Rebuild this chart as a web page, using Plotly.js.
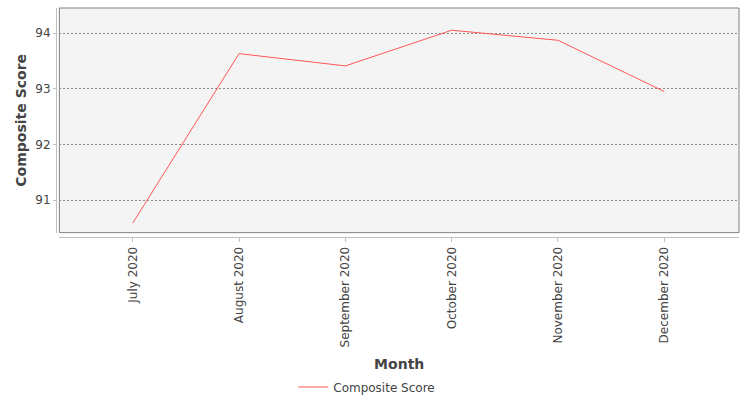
<!DOCTYPE html>
<html>
<head>
<meta charset="utf-8">
<script src="https://cdn.plot.ly/plotly-3.0.1.min.js"></script>
<style>
  html, body { margin: 0; padding: 0; background: #fff; }
  #plot { width: 750px; height: 400px; }
</style>
</head>
<body>
<div id="plot"></div>
<script>
const months = ["July 2020", "August 2020", "September 2020", "October 2020", "November 2020", "December 2020"];
const compositeScore = [90.59, 93.63, 93.41, 94.05, 93.87, 92.95];
const yTicks = [91, 92, 93, 94];

const trace = {
  x: months,
  y: compositeScore,
  type: "scatter",
  mode: "lines",
  name: "Composite Score",
  line: { color: "#ff5555", width: 1 },
  hoverinfo: "skip",
};

const font = { family: "DejaVu Sans, sans-serif", size: 12, color: "#444" };

const xaxis = {
  type: "category",
  domain: [0.005, 1],
  range: [-0.69, 5.703],
  anchor: "free",
  position: 0,
  showline: true,
  linecolor: "#c0c0c0",
  linewidth: 1,
  ticks: "outside",
  ticklen: 4,
  tickcolor: "#c0c0c0",
  tickangle: -90,
  showgrid: false,
  zeroline: false,
  tickfont: font,
  title: {
    text: "Month",
    standoff: 12,
    font: { family: "DejaVu Sans, sans-serif", size: 14, color: "#444", weight: "bold" },
  },
};

const yaxis = {
  domain: [0.019, 1],
  range: [90.418, 94.449],
  anchor: "free",
  position: 0,
  showline: true,
  linecolor: "#c0c0c0",
  linewidth: 1,
  ticks: "outside",
  ticklen: 3,
  tickcolor: "#c0c0c0",
  tickvals: yTicks,
  showgrid: true,
  gridcolor: "#8c8c8c",
  gridwidth: 1,
  griddash: "2px,2px",
  zeroline: false,
  tickfont: font,
  title: {
    text: "Composite Score",
    standoff: 4,
    font: { family: "DejaVu Sans, sans-serif", size: 14, color: "#444", weight: "bold" },
  },
};

const layout = {
  width: 750,
  height: 400,
  margin: { l: 56, r: 11, t: 8, b: 163 },
  paper_bgcolor: "#ffffff",
  plot_bgcolor: "#ffffff",
  font,
  xaxis,
  yaxis,
  showlegend: true,
  legend: {
    orientation: "h",
    xref: "container",
    yref: "container",
    x: 0.489,
    xanchor: "center",
    y: 0.0325,
    yanchor: "middle",
    font,
    bgcolor: "rgba(0,0,0,0)",
  },
  shapes: [
    {
      type: "rect",
      xref: "x domain",
      yref: "y domain",
      x0: 0, x1: 1, y0: 0, y1: 1,
      fillcolor: "#f4f4f4",
      line: { color: "#808080", width: 1 },
      layer: "below",
    },
  ],
};

Plotly.newPlot(document.querySelector("#plot"), [trace], layout, { displayModeBar: false, staticPlot: true });
</script>
</body>
</html>
